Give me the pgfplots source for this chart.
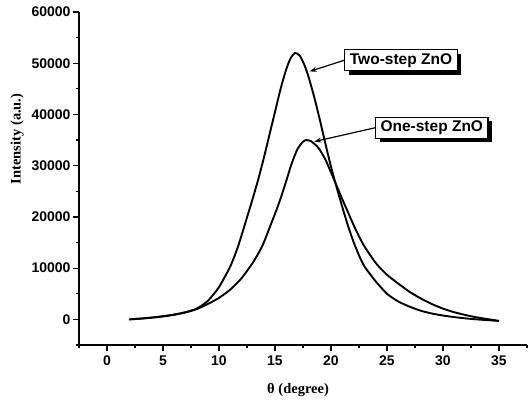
\documentclass[border=0pt]{standalone}
\usepackage{fontspec}
\setmainfont{Liberation Sans}
\newfontfamily\serifb{Liberation Serif}
\usepackage{pgfplots}
\pgfplotsset{compat=1.18}
\usetikzlibrary{shadows,arrows.meta,calc}

\pgfplotstableread{
x y
2 0
3 150
4 350
5 600
6 950
7 1400
8 2100
9 3600
10 6300
11 10300
11.6 13600
12 16300
12.5 19900
13 23500
13.5 27300
14 31500
14.5 36000
15 40500
15.5 45000
16 48800
16.4 51000
16.8 52000
17.2 51500
17.6 49800
18 47300
18.5 43400
19 39000
19.5 34300
20 29800
20.5 25800
21 22000
21.5 18400
22 15200
22.5 12500
23 10300
24 7400
25 5000
26 3500
27 2500
28 1700
29 1150
30 750
31 450
32 200
33 0
34 -150
35 -300
}\twostep

\pgfplotstableread{
x y
2 0
3 150
4 350
5 600
6 900
7 1350
8 2000
9 3000
10 4200
11 5800
12 8000
13 11000
13.7 13600
14 15000
14.5 17800
15 20600
15.5 23600
16 27000
16.5 30500
17 33200
17.5 34700
17.8 35000
18.2 34800
18.7 33900
19 33100
19.5 31200
20 28700
20.5 26100
21 23500
21.5 21000
22 18500
22.5 16200
23 14200
24 11000
25 8700
26 7000
27 5400
28 4100
29 3000
30 2100
31 1400
32 850
33 400
34 50
35 -300
}\onestep

\begin{document}
\begin{tikzpicture}
\begin{axis}[
  scale only axis,
  width=448pt, height=333pt,
  xmin=-2.5, xmax=37.5,
  ymin=-5000, ymax=60000,
  axis x line*=bottom,
  axis y line*=left,
  axis line style={line width=1.3pt},
  xtick={0,5,...,35},
  minor xtick={-2.5,2.5,...,37.5},
  ytick={0,10000,...,60000},
  minor ytick={-5000,5000,...,55000},
  tick align=outside,
  major tick length=6pt,
  minor tick length=3pt,
  every tick/.style={line width=1.3pt, black},
  scaled y ticks=false,
  /pgf/number format/assume math mode=true,
  /pgf/number format/1000 sep={},
  tick label style={font=\bfseries\fontsize{14}{14}\selectfont},
  xticklabel style={yshift=-1pt},
  yticklabel style={xshift=1pt},
  xlabel={\serifb\bfseries θ (degree)},
  ylabel={\serifb\bfseries Intensity (a.u.)},
  label style={font=\fontsize{14.5}{14.5}\selectfont},
  xlabel style={at={(axis description cs:0.489,-0.135)}, anchor=center},
  ylabel style={at={(axis description cs:-0.138,0.619)}, anchor=center},
  clip=false,
]
\addplot[black, line width=1.9pt, smooth, tension=0.4] table[x=x,y=y] {\twostep};
\addplot[black, line width=1.9pt, smooth, tension=0.4] table[x=x,y=y] {\onestep};
\coordinate (O) at (rel axis cs:0,0);
\node[draw, fill=white, line width=1.1pt, inner xsep=5pt, minimum height=21pt,
  drop shadow={shadow xshift=4pt, shadow yshift=-4pt, fill=black, opacity=1},
  font=\bfseries\fontsize{15.5}{15.5}\selectfont] (t2) at (axis cs:26.25,50590) {Two-step ZnO};
\node[draw, fill=white, line width=1.1pt, inner xsep=5pt, minimum height=21pt,
  drop shadow={shadow xshift=4pt, shadow yshift=-4pt, fill=black, opacity=1},
  font=\bfseries\fontsize{15.5}{15.5}\selectfont] (t1) at (axis cs:29.0,37400) {One-step ZnO};
\draw[line width=1.2pt, -{Stealth[length=7pt,width=5pt]}] (t2.west) -- (axis cs:18.1,48400);
\draw[line width=1.2pt, -{Stealth[length=7pt,width=5pt]}] (t1.west) -- (axis cs:18.5,34700);
\end{axis}
\pgfresetboundingbox
\path ($(O)+(-79pt,-57pt)$) rectangle ($(O)+(449pt,345pt)$);
\end{tikzpicture}
\end{document}
